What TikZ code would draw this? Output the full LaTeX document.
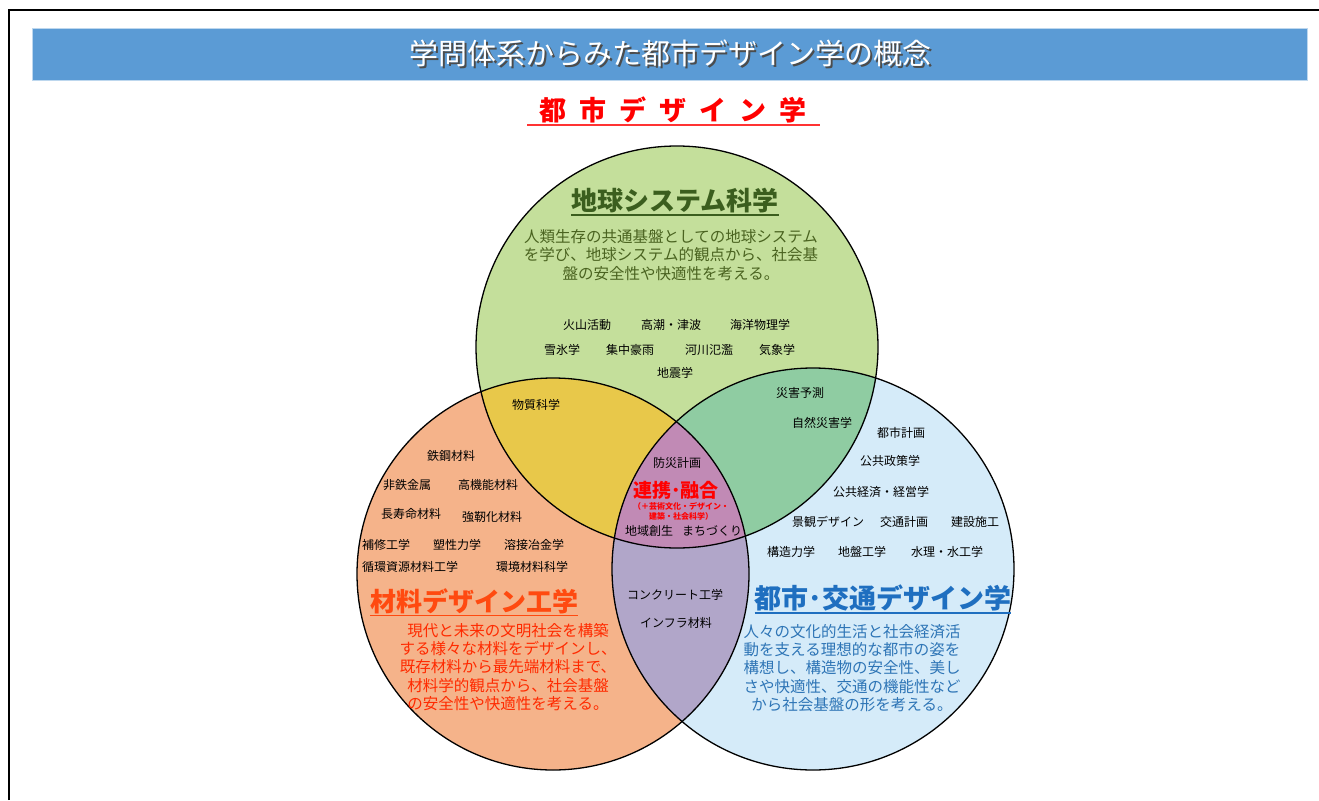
\documentclass[tikz,border=0pt]{standalone}
\usepackage{fontspec}
\newfontfamily\jp{Noto Sans CJK JP}
\definecolor{barblue}{HTML}{5B9BD5}
\definecolor{cgreen}{HTML}{C4DF9B}
\definecolor{corange}{HTML}{F5B38A}
\definecolor{cblue}{HTML}{D5EBF9}
\definecolor{cyellow}{HTML}{E8C84A}
\definecolor{cteal}{HTML}{8FCCA2}
\definecolor{cviolet}{HTML}{B1A6C9}
\definecolor{cpink}{HTML}{C18AB5}
\definecolor{tgreen}{HTML}{3B5E1E}
\definecolor{dgreen}{HTML}{4A6320}
\definecolor{torange}{HTML}{FF4A10}
\definecolor{dred}{HTML}{FF2A00}
\definecolor{tblue}{HTML}{1F6FC0}
\definecolor{dblue}{HTML}{2E75B6}
\tikzset{
  term/.style={font=\jp\fontsize{12}{13}\selectfont, text=black, inner sep=0pt},
  desc/.style={align=center, inner sep=0pt, font=\jp\fontsize{15.5}{18.2}\selectfont},
  bigtitle/.style={inner sep=0pt, font=\jp\bfseries\fontsize{26}{30}\selectfont},
  ring/.style={draw=black, line width=1.3pt},
}
\begin{document}
\begin{tikzpicture}[x=1pt,y=-1pt]
\useasboundingbox (0,0) rectangle (1319,800);
\fill[white] (0,0) rectangle (1319,800);
% page frame
\draw[line width=1.2pt] (9,800) -- (9,10) -- (1319,10);
% title bar
\fill[barblue, draw=barblue!40] (32,28) rectangle (1307,80);
\node[text=black!70, inner sep=0pt, font=\jp\fontsize{29}{32}\selectfont] (tbs) at (672,55) {学問体系からみた都市デザイン学の概念};
\node[text=white, inner sep=0pt, font=\jp\fontsize{29}{32}\selectfont] (tb) at (670,53) {学問体系からみた都市デザイン学の概念};
% red title
\node[text=red, inner sep=0pt, font=\jp\bfseries\fontsize{27}{30}\selectfont] (rt) at (673,110) {都\hspace{13pt}市\hspace{13pt}デ\hspace{13pt}ザ\hspace{13pt}イ\hspace{13pt}ン\hspace{13pt}学};
\draw[red!80, line width=2.5pt] (527,125) -- (820,125);
% circles
\coordinate (T) at (677,347);
\coordinate (L) at (553,574);
\coordinate (R) at (813,569);
\fill[cgreen] (T) circle (201);
\fill[corange] (L) circle (196);
\fill[cblue] (R) circle (201);
\begin{scope}
  \clip (T) circle (201);
  \fill[cyellow] (L) circle (196);
  \fill[cteal] (R) circle (201);
\end{scope}
\begin{scope}
  \clip (L) circle (196);
  \fill[cviolet] (R) circle (201);
  \clip (R) circle (201);
  \fill[cpink] (T) circle (201);
\end{scope}
\draw[ring] (T) circle (201);
\draw[ring] (L) circle (196);
\draw[ring] (R) circle (201);
% top circle texts
\node[bigtitle, text=tgreen] (tt) at (675,201) {地球システム科学};
\draw[tgreen, line width=1.6pt] ([yshift=-1.5pt]tt.south west) -- ([yshift=-1.5pt]tt.south east);
\node[desc, text=dgreen] (td) at (671,255) {人類生存の共通基盤としての地球システム\\を学び、地球システム的観点から、社会基\\盤の安全性や快適性を考える。};
\node[term] (k1) at (587,325) {火山活動};
\node[term] (k2) at (671,325) {高潮・津波};
\node[term] (k3) at (760,325) {海洋物理学};
\node[term] (k4) at (562,350) {雪氷学};
\node[term] (k5) at (630,350) {集中豪雨};
\node[term] (k6) at (709,350) {河川氾濫};
\node[term] (k7) at (777,350) {気象学};
\node[term] (k8) at (675,373) {地震学};
% overlaps
\node[term] (b1) at (536,405) {物質科学};
\node[term] (g1) at (800,393) {災害予測};
\node[term] (g2) at (822,423) {自然災害学};
% center
\node[term] (c1) at (677,463) {防災計画};
\node[inner sep=0pt, text=red, font=\jp\bfseries\fontsize{19}{21}\selectfont] (c2) at (676,490) {連携･融合};
\node[inner sep=0pt, text=red, align=center, font=\jp\bfseries\fontsize{8}{10}\selectfont] (c3) at (681,511) {（＋芸術文化・デザイン・\\建築・社会科学）};
\node[term] (c4) at (649,531) {地域創生};
\node[term] (c5) at (712,531) {まちづくり};
% bottom overlap
\node[term] (v1) at (675,595) {コンクリート工学};
\node[term] (v2) at (676,623) {インフラ材料};
% right circle
\node[term] (r1) at (901,433) {都市計画};
\node[term] (r2) at (890,461) {公共政策学};
\node[term] (r3) at (881,492) {公共経済・経営学};
\node[term] (r4) at (828,522) {景観デザイン};
\node[term] (r5) at (904,522) {交通計画};
\node[term] (r6) at (975,522) {建設施工};
\node[term] (r7) at (791,552) {構造力学};
\node[term] (r8) at (862,552) {地盤工学};
\node[term] (r9) at (947,552) {水理・水工学};
\node[bigtitle, text=tblue, font=\jp\bfseries\fontsize{27}{30}\selectfont] (rt2) at (883,598) {都市･交通デザイン学};
\draw[tblue, line width=1.6pt] ([yshift=-1.5pt]rt2.south west) -- ([yshift=-1.5pt]rt2.south east);
\node[desc, text=dblue] (rd) at (852,668) {人々の文化的生活と社会経済活\\動を支える理想的な都市の姿を\\構想し、構造物の安全性、美し\\さや快適性、交通の機能性など\\から社会基盤の形を考える。};
% left circle
\node[term] (l1) at (451,456) {鉄鋼材料};
\node[term] (l2) at (407,485) {非鉄金属};
\node[term] (l3) at (488,485) {高機能材料};
\node[term] (l4) at (411,514) {長寿命材料};
\node[term] (l5) at (492,517) {強靭化材料};
\node[term] (l6) at (386,545) {補修工学};
\node[term] (l7) at (457,545) {塑性力学};
\node[term] (l8) at (534,545) {溶接冶金学};
\node[term] (l9) at (410,567) {循環資源材料工学};
\node[term] (l10) at (532,567) {環境材料科学};
\node[bigtitle, text=torange] (lt) at (474,601) {材料デザイン工学};
\draw[torange, line width=1.6pt] ([yshift=-1.5pt]lt.south west) -- ([yshift=-1.5pt]lt.south east);
\node[desc, text=dred] (ld) at (508,667) {現代と未来の文明社会を構築\\する様々な材料をデザインし、\\既存材料から最先端材料まで、\\材料学的観点から、社会基盤\\の安全性や快適性を考える。};
\end{tikzpicture}
\end{document}
